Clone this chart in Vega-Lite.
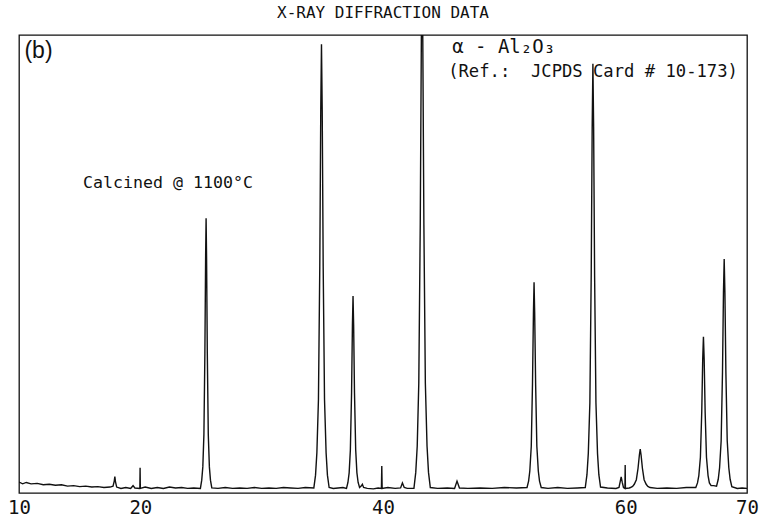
{
  "$schema": "https://vega.github.io/schema/vega-lite/v6.json",
  "width": 728,
  "height": 458,
  "autosize": {"type": "none"},
  "padding": {"left": 19, "top": 35, "right": 13, "bottom": 25},
  "background": "white",
  "config": {
    "view": {"stroke": "#111", "strokeWidth": 1.3},
    "axis": {"grid": false}
  },
  "title": {
    "text": "X-RAY DIFFRACTION DATA",
    "font": "DejaVu Sans Mono",
    "fontSize": 16,
    "fontWeight": "normal",
    "color": "#111",
    "anchor": "middle",
    "offset": 14
  },
  "datasets": {
    "spectrum": [
      {"twotheta": 10.0, "intensity": 2.4}, {"twotheta": 10.3, "intensity": 2.0}, {"twotheta": 10.6, "intensity": 2.3},
      {"twotheta": 11.0, "intensity": 2.0}, {"twotheta": 11.5, "intensity": 2.1}, {"twotheta": 12.0, "intensity": 1.8},
      {"twotheta": 12.5, "intensity": 1.9}, {"twotheta": 13.0, "intensity": 1.7}, {"twotheta": 13.5, "intensity": 1.8},
      {"twotheta": 14.0, "intensity": 1.5}, {"twotheta": 14.5, "intensity": 1.6}, {"twotheta": 15.0, "intensity": 1.4},
      {"twotheta": 15.5, "intensity": 1.5}, {"twotheta": 16.0, "intensity": 1.3}, {"twotheta": 16.5, "intensity": 1.4},
      {"twotheta": 17.0, "intensity": 1.2}, {"twotheta": 17.5, "intensity": 1.3}, {"twotheta": 17.75, "intensity": 1.5},
      {"twotheta": 17.85, "intensity": 2.6}, {"twotheta": 17.9, "intensity": 3.6}, {"twotheta": 17.95, "intensity": 2.5},
      {"twotheta": 18.05, "intensity": 1.3}, {"twotheta": 18.4, "intensity": 1.0}, {"twotheta": 18.8, "intensity": 1.2},
      {"twotheta": 19.2, "intensity": 1.0}, {"twotheta": 19.4, "intensity": 1.6}, {"twotheta": 19.55, "intensity": 1.1},
      {"twotheta": 19.96, "intensity": 1.0}, {"twotheta": 19.98, "intensity": 5.5}, {"twotheta": 20.0, "intensity": 1.0},
      {"twotheta": 20.4, "intensity": 1.3}, {"twotheta": 20.9, "intensity": 1.0}, {"twotheta": 21.4, "intensity": 1.2},
      {"twotheta": 21.9, "intensity": 1.0}, {"twotheta": 22.4, "intensity": 1.3}, {"twotheta": 22.9, "intensity": 1.1},
      {"twotheta": 23.4, "intensity": 1.2}, {"twotheta": 23.9, "intensity": 1.0}, {"twotheta": 24.4, "intensity": 1.1},
      {"twotheta": 24.95, "intensity": 1.0}, {"twotheta": 25.06, "intensity": 2.8}, {"twotheta": 25.15, "intensity": 5.7},
      {"twotheta": 25.24, "intensity": 12.8}, {"twotheta": 25.32, "intensity": 30.5}, {"twotheta": 25.38, "intensity": 51.2},
      {"twotheta": 25.42, "intensity": 60.0}, {"twotheta": 25.46, "intensity": 51.2}, {"twotheta": 25.52, "intensity": 30.5},
      {"twotheta": 25.6, "intensity": 12.8}, {"twotheta": 25.69, "intensity": 5.7}, {"twotheta": 25.78, "intensity": 2.8},
      {"twotheta": 25.89, "intensity": 1.1},
      {"twotheta": 26.4, "intensity": 1.0}, {"twotheta": 27.0, "intensity": 1.2}, {"twotheta": 27.6, "intensity": 1.0},
      {"twotheta": 28.2, "intensity": 1.1}, {"twotheta": 28.8, "intensity": 1.0}, {"twotheta": 29.4, "intensity": 1.2},
      {"twotheta": 30.0, "intensity": 1.0}, {"twotheta": 30.6, "intensity": 1.1}, {"twotheta": 31.2, "intensity": 1.0},
      {"twotheta": 31.8, "intensity": 1.2}, {"twotheta": 32.4, "intensity": 1.1}, {"twotheta": 33.0, "intensity": 1.0},
      {"twotheta": 33.6, "intensity": 1.2},
      {"twotheta": 34.3, "intensity": 1.1}, {"twotheta": 34.44, "intensity": 3.9}, {"twotheta": 34.55, "intensity": 8.8},
      {"twotheta": 34.68, "intensity": 20.4}, {"twotheta": 34.79, "intensity": 49.5}, {"twotheta": 34.87, "intensity": 83.5},
      {"twotheta": 34.93, "intensity": 98.0}, {"twotheta": 34.99, "intensity": 83.5}, {"twotheta": 35.07, "intensity": 49.5},
      {"twotheta": 35.18, "intensity": 20.4}, {"twotheta": 35.31, "intensity": 8.8}, {"twotheta": 35.42, "intensity": 3.9},
      {"twotheta": 35.56, "intensity": 1.2},
      {"twotheta": 35.9, "intensity": 1.0}, {"twotheta": 36.3, "intensity": 1.1}, {"twotheta": 36.7, "intensity": 1.2},
      {"twotheta": 36.99, "intensity": 1.0}, {"twotheta": 37.11, "intensity": 2.3}, {"twotheta": 37.21, "intensity": 4.4},
      {"twotheta": 37.31, "intensity": 9.4}, {"twotheta": 37.41, "intensity": 22.0}, {"twotheta": 37.48, "intensity": 36.7},
      {"twotheta": 37.53, "intensity": 43.0}, {"twotheta": 37.58, "intensity": 36.7}, {"twotheta": 37.65, "intensity": 22.0},
      {"twotheta": 37.75, "intensity": 9.4}, {"twotheta": 37.85, "intensity": 4.4}, {"twotheta": 37.95, "intensity": 2.3},
      {"twotheta": 38.07, "intensity": 1.2}, {"twotheta": 38.2, "intensity": 1.5}, {"twotheta": 38.3, "intensity": 1.9},
      {"twotheta": 38.4, "intensity": 1.2}, {"twotheta": 38.7, "intensity": 1.0}, {"twotheta": 39.2, "intensity": 0.9},
      {"twotheta": 39.6, "intensity": 1.1}, {"twotheta": 39.87, "intensity": 1.0}, {"twotheta": 39.9, "intensity": 5.9},
      {"twotheta": 39.93, "intensity": 1.0}, {"twotheta": 40.4, "intensity": 1.2}, {"twotheta": 41.0, "intensity": 1.0},
      {"twotheta": 41.45, "intensity": 1.1}, {"twotheta": 41.6, "intensity": 2.2}, {"twotheta": 41.75, "intensity": 1.2},
      {"twotheta": 42.0, "intensity": 1.0},
      {"twotheta": 42.55, "intensity": 1.0}, {"twotheta": 42.7, "intensity": 4.5}, {"twotheta": 42.82, "intensity": 10.2},
      {"twotheta": 42.95, "intensity": 24.0}, {"twotheta": 43.07, "intensity": 58.5}, {"twotheta": 43.16, "intensity": 98.8},
      {"twotheta": 43.22, "intensity": 116.0}, {"twotheta": 43.28, "intensity": 98.8}, {"twotheta": 43.37, "intensity": 58.5},
      {"twotheta": 43.49, "intensity": 24.0}, {"twotheta": 43.63, "intensity": 10.2}, {"twotheta": 43.75, "intensity": 4.5},
      {"twotheta": 43.9, "intensity": 1.2},
      {"twotheta": 44.5, "intensity": 1.0}, {"twotheta": 45.3, "intensity": 1.1}, {"twotheta": 45.9, "intensity": 1.0},
      {"twotheta": 46.1, "intensity": 2.6}, {"twotheta": 46.3, "intensity": 1.1}, {"twotheta": 47.0, "intensity": 1.0},
      {"twotheta": 48.0, "intensity": 1.1}, {"twotheta": 49.0, "intensity": 1.0}, {"twotheta": 50.0, "intensity": 1.2},
      {"twotheta": 51.0, "intensity": 1.1}, {"twotheta": 51.87, "intensity": 1.2},
      {"twotheta": 52.0, "intensity": 2.6}, {"twotheta": 52.1, "intensity": 4.8}, {"twotheta": 52.22, "intensity": 10.2},
      {"twotheta": 52.32, "intensity": 23.7}, {"twotheta": 52.4, "intensity": 39.5}, {"twotheta": 52.45, "intensity": 46.0},
      {"twotheta": 52.5, "intensity": 39.5}, {"twotheta": 52.58, "intensity": 23.7}, {"twotheta": 52.68, "intensity": 10.2},
      {"twotheta": 52.8, "intensity": 4.8}, {"twotheta": 52.9, "intensity": 2.6}, {"twotheta": 53.04, "intensity": 1.2},
      {"twotheta": 53.6, "intensity": 1.0}, {"twotheta": 54.4, "intensity": 1.2}, {"twotheta": 55.2, "intensity": 1.0},
      {"twotheta": 56.0, "intensity": 1.1}, {"twotheta": 56.67, "intensity": 1.2},
      {"twotheta": 56.81, "intensity": 4.0}, {"twotheta": 56.92, "intensity": 8.6}, {"twotheta": 57.05, "intensity": 19.7},
      {"twotheta": 57.16, "intensity": 47.5}, {"twotheta": 57.24, "intensity": 79.8}, {"twotheta": 57.3, "intensity": 93.7},
      {"twotheta": 57.36, "intensity": 79.8}, {"twotheta": 57.44, "intensity": 47.5}, {"twotheta": 57.55, "intensity": 19.7},
      {"twotheta": 57.68, "intensity": 8.6}, {"twotheta": 57.79, "intensity": 4.0}, {"twotheta": 57.93, "intensity": 1.3},
      {"twotheta": 58.5, "intensity": 1.1}, {"twotheta": 59.2, "intensity": 1.0}, {"twotheta": 59.45, "intensity": 1.2},
      {"twotheta": 59.55, "intensity": 2.5}, {"twotheta": 59.63, "intensity": 3.5}, {"twotheta": 59.72, "intensity": 2.3},
      {"twotheta": 59.82, "intensity": 1.2}, {"twotheta": 59.94, "intensity": 1.0}, {"twotheta": 59.96, "intensity": 6.1},
      {"twotheta": 59.98, "intensity": 1.0}, {"twotheta": 60.3, "intensity": 1.1},
      {"twotheta": 60.39, "intensity": 1.2}, {"twotheta": 60.57, "intensity": 1.45}, {"twotheta": 60.71, "intensity": 1.9},
      {"twotheta": 60.88, "intensity": 2.9}, {"twotheta": 61.02, "intensity": 5.4}, {"twotheta": 61.13, "intensity": 8.3},
      {"twotheta": 61.2, "intensity": 9.6}, {"twotheta": 61.27, "intensity": 8.3}, {"twotheta": 61.38, "intensity": 5.4},
      {"twotheta": 61.52, "intensity": 2.9}, {"twotheta": 61.69, "intensity": 1.9}, {"twotheta": 61.83, "intensity": 1.45},
      {"twotheta": 62.01, "intensity": 1.2},
      {"twotheta": 62.6, "intensity": 1.0}, {"twotheta": 63.4, "intensity": 1.1}, {"twotheta": 64.2, "intensity": 1.0},
      {"twotheta": 65.0, "intensity": 1.2}, {"twotheta": 65.78, "intensity": 1.2},
      {"twotheta": 65.92, "intensity": 2.2}, {"twotheta": 66.03, "intensity": 3.8}, {"twotheta": 66.16, "intensity": 7.8},
      {"twotheta": 66.27, "intensity": 17.7}, {"twotheta": 66.35, "intensity": 29.2}, {"twotheta": 66.41, "intensity": 34.1},
      {"twotheta": 66.47, "intensity": 29.2}, {"twotheta": 66.55, "intensity": 17.7}, {"twotheta": 66.66, "intensity": 7.8},
      {"twotheta": 66.79, "intensity": 3.8}, {"twotheta": 66.9, "intensity": 2.2}, {"twotheta": 67.04, "intensity": 1.6},
      {"twotheta": 67.25, "intensity": 1.6}, {"twotheta": 67.49, "intensity": 1.5},
      {"twotheta": 67.63, "intensity": 3.0}, {"twotheta": 67.74, "intensity": 5.5}, {"twotheta": 67.87, "intensity": 11.4},
      {"twotheta": 67.98, "intensity": 26.3}, {"twotheta": 68.06, "intensity": 43.7}, {"twotheta": 68.12, "intensity": 51.1},
      {"twotheta": 68.18, "intensity": 43.7}, {"twotheta": 68.26, "intensity": 26.3}, {"twotheta": 68.37, "intensity": 11.4},
      {"twotheta": 68.5, "intensity": 5.5}, {"twotheta": 68.61, "intensity": 3.0}, {"twotheta": 68.75, "intensity": 1.4},
      {"twotheta": 69.2, "intensity": 1.0}, {"twotheta": 69.6, "intensity": 1.1}, {"twotheta": 70.0, "intensity": 1.0}
    ]
  },
  "layer": [
    {
      "data": {"name": "spectrum"},
      "mark": {"type": "line", "color": "#111", "strokeWidth": 1.4, "clip": true},
      "encoding": {
        "x": {
          "field": "twotheta", "type": "quantitative",
          "scale": {"domain": [10, 70], "nice": false, "zero": false},
          "axis": {
            "title": null, "values": [10, 20, 40, 60, 70], "domain": false, "ticks": false,
            "labelFont": "DejaVu Sans Mono", "labelFontSize": 19, "labelColor": "#111",
            "labelPadding": 5, "labelOverlap": false, "labelFlush": false, "labelBound": false
          }
        },
        "y": {
          "field": "intensity", "type": "quantitative",
          "scale": {"domain": [0, 100], "nice": false},
          "axis": null
        }
      }
    },
    {
      "data": {"values": [{"x": 10.45, "y": 96.6, "label": "(b)"}]},
      "mark": {"type": "text", "font": "Liberation Sans", "fontSize": 23, "align": "left", "baseline": "middle", "color": "#111"},
      "encoding": {
        "x": {"field": "x", "type": "quantitative"},
        "y": {"field": "y", "type": "quantitative"},
        "text": {"field": "label"}
      }
    },
    {
      "data": {"values": [{"x": 15.28, "y": 67.7, "label": "Calcined @ 1100°C"}]},
      "mark": {"type": "text", "font": "DejaVu Sans Mono", "fontSize": 16.6, "align": "left", "baseline": "middle", "color": "#111"},
      "encoding": {
        "x": {"field": "x", "type": "quantitative"},
        "y": {"field": "y", "type": "quantitative"},
        "text": {"field": "label"}
      }
    },
    {
      "data": {"values": [{"x": 45.37, "y": 91.9, "label": "(Ref.:\u00a0 JCPDS Card # 10-173)"}]},
      "mark": {"type": "text", "font": "DejaVu Sans Mono", "fontSize": 17.2, "align": "left", "baseline": "middle", "color": "#111"},
      "encoding": {
        "x": {"field": "x", "type": "quantitative"},
        "y": {"field": "y", "type": "quantitative"},
        "text": {"field": "label"}
      }
    },
    {
      "data": {"values": [{"x": 45.7, "y": 97.4, "label": "α - Al₂O₃"}]},
      "mark": {"type": "text", "font": "DejaVu Sans Mono", "fontSize": 19, "align": "left", "baseline": "middle", "color": "#111"},
      "encoding": {
        "x": {"field": "x", "type": "quantitative"},
        "y": {"field": "y", "type": "quantitative"},
        "text": {"field": "label"}
      }
    }
  ]
}
